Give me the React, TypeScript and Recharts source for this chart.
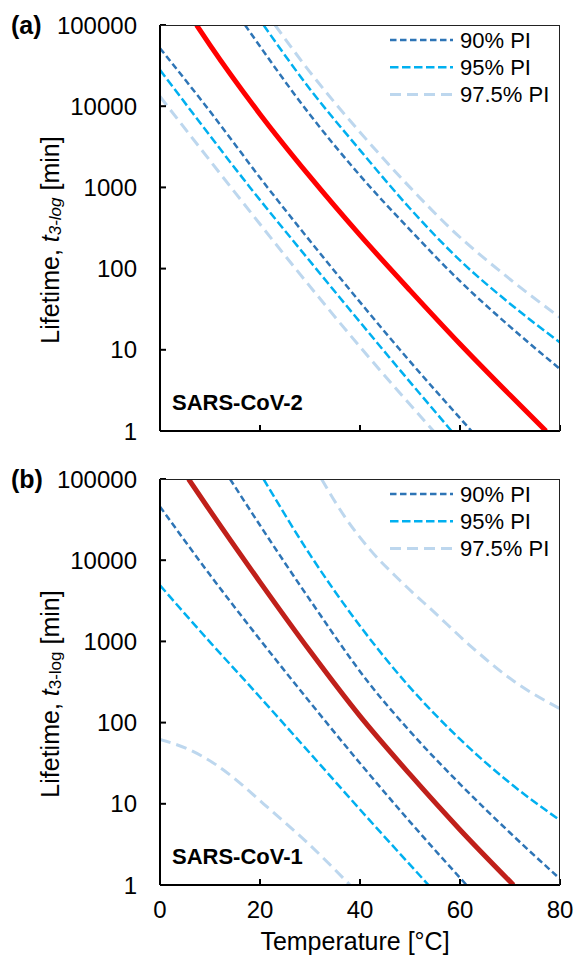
import { LineChart, Line, XAxis, YAxis } from 'recharts'

const FONT = '"Liberation Sans", Arial, sans-serif'

const temperatureTicks = [0, 20, 40, 60, 80]
const lifetimeTicks = [1, 10, 100, 1000, 10000, 100000]

type Pt = [number, number]

// (a) SARS-CoV-2 — [temperature °C, lifetime min]
const cov2Mean: Pt[] = [[7.3, 100000], [10, 56500], [20, 7980], [30, 1355], [40, 258], [50, 54], [60, 11.8], [70, 2.77], [77.2, 1]]
const cov2Pi90Lo: Pt[] = [[0, 51800], [9.2, 10000], [21.5, 1000], [34.5, 100], [48, 10], [62.3, 1]]
const cov2Pi90Hi: Pt[] = [[17, 100000], [30, 7850], [40, 1400], [50, 300], [60, 70], [70, 19.3], [80, 5.8]]
const cov2Pi95Lo: Pt[] = [[0, 28000], [5.5, 10000], [18, 1000], [31.2, 100], [44.6, 10], [58.3, 1]]
const cov2Pi95Hi: Pt[] = [[20.7, 100000], [30, 16200], [40, 2880], [50, 550], [60, 126], [70, 37], [80, 12.3]]
const cov2Pi975Lo: Pt[] = [[0, 13150], [1.5, 10000], [14.2, 1000], [27.1, 100], [40.5, 10], [54.7, 1]]
const cov2Pi975Hi: Pt[] = [[23, 100000], [30, 26300], [40, 4790], [50, 1000], [58, 316], [70, 74], [80, 25]]

// (b) SARS-CoV-1
const cov1Mean: Pt[] = [[5.7, 100000], [10, 40700], [20, 5370], [30, 760], [40, 120], [50, 23], [60, 4.8], [70.7, 1]]
const cov1Pi90Lo: Pt[] = [[0, 45700], [10, 6600], [20, 1050], [30, 178], [40, 31.6], [50, 6], [61.3, 1]]
const cov1Pi90Hi: Pt[] = [[14, 100000], [20, 26900], [30, 3240], [42, 295], [50, 78], [60, 17.5], [70, 4.4], [80, 1.19]]
const cov1Pi95Lo: Pt[] = [[0, 4900], [10, 980], [17.7, 295], [30, 42], [40, 8.5], [53.7, 1]]
const cov1Pi95Hi: Pt[] = [[20.7, 100000], [30, 11700], [40, 1550], [49.5, 294], [60, 62.5], [70, 18], [80, 6.25]]
const cov1Pi975Lo: Pt[] = [[0, 62], [6, 46], [11.3, 30], [16, 18], [20.7, 10], [29.3, 3.4], [38, 1]]
const cov1Pi975Hi: Pt[] = [[32.3, 100000], [37, 33900], [42, 13500], [48, 5620], [55, 2240], [62, 890], [71, 316], [80, 148]]

const piStyles = [
  { name: '90% PI', color: '#2E75B6', dash: '6.5 3.5', width: 2.5 },
  { name: '95% PI', color: '#00B0F0', dash: '8.5 3.5', width: 2.5 },
  { name: '97.5% PI', color: '#BDD7EE', dash: '11 6', width: 3 },
]

const toRows = (pts: Pt[]) => pts.map(([t, v]) => ({ t, v }))

const PLOT_LEFT = 160
const PLOT_W = 400
const PLOT_TOP = 25
const PLOT_H = 406

function YTitle({ viewBox, italicSub }: any) {
  const cx = 50
  const cy = viewBox.y + viewBox.height / 2 + 12
  return (
    <text
      x={cx}
      y={cy}
      transform={`rotate(-90 ${cx} ${cy})`}
      textAnchor="middle"
      dominantBaseline="central"
      fontFamily={FONT}
      fontSize={25}
      fill="#000"
    >
      Lifetime, <tspan fontStyle="italic">t</tspan>
      <tspan fontSize={17} dy={5} fontStyle={italicSub ? 'italic' : 'normal'}>3-log</tspan>
      <tspan dy={-5}> [min]</tspan>
    </text>
  )
}

function PiLegend() {
  return (
    <svg
      width={190}
      height={90}
      style={{ position: 'absolute', left: 380, top: PLOT_TOP, overflow: 'visible' }}
    >
      {piStyles.map((s, i) => {
        const y = 15 + i * 27.3
        return (
          <g key={s.name}>
            <line x1={10} x2={73} y1={y} y2={y} stroke={s.color} strokeWidth={s.width} strokeDasharray={s.dash} />
            <text x={80} y={y} dominantBaseline="central" fontFamily={FONT} fontSize={22} fill="#000">
              {s.name}
            </text>
          </g>
        )
      })}
    </svg>
  )
}

interface PanelProps {
  top: number
  height: number
  letter: string
  virus: string
  meanColor: string
  mean: Pt[]
  lo: Pt[][]
  hi: Pt[][]
  showTemp: boolean
  italicSub: boolean
}

function Panel({ top, height, letter, virus, meanColor, mean, lo, hi, showTemp, italicSub }: PanelProps) {
  const axisH = height - PLOT_TOP - PLOT_H
  const order = [2, 1, 0]
  return (
    <div style={{ position: 'absolute', left: 0, top, width: 574, height }}>
      <LineChart width={574} height={height} margin={{ top: PLOT_TOP, right: 14, bottom: 0, left: 0 }}>
        <XAxis
          type="number"
          dataKey="t"
          domain={[0, 80]}
          ticks={temperatureTicks}
          interval={0}
          allowDataOverflow
          height={axisH}
          tickSize={-6}
          tickMargin={22}
          tickFormatter={(v) => (showTemp ? String(v) : '')}
          tick={{ fill: '#000', fontSize: 24, fontFamily: FONT }}
          axisLine={{ stroke: '#000', strokeWidth: 2 }}
          tickLine={{ stroke: '#000', strokeWidth: 2 }}
          label={
            showTemp
              ? { value: 'Temperature [°C]', position: 'insideBottom', offset: 6, dx: -5, fill: '#000', fontSize: 25, fontFamily: FONT }
              : undefined
          }
        />
        <YAxis
          type="number"
          scale="log"
          domain={[1, 100000]}
          ticks={lifetimeTicks}
          interval={0}
          allowDataOverflow
          width={PLOT_LEFT}
          tickSize={-6}
          tickMargin={29}
          tickFormatter={(v) => String(v)}
          tick={{ fill: '#000', fontSize: 24, fontFamily: FONT }}
          axisLine={{ stroke: '#000', strokeWidth: 2 }}
          tickLine={{ stroke: '#000', strokeWidth: 2 }}
          label={(props: any) => <YTitle {...props} italicSub={italicSub} />}
        />
        {order.map((i) => (
          <Line
            key={`lo-${i}`}
            data={toRows(lo[i])}
            dataKey="v"
            type="monotone"
            stroke={piStyles[i].color}
            strokeWidth={piStyles[i].width}
            strokeDasharray={piStyles[i].dash}
            dot={false}
            activeDot={false}
            isAnimationActive={false}
          />
        ))}
        {order.map((i) => (
          <Line
            key={`hi-${i}`}
            data={toRows(hi[i])}
            dataKey="v"
            type="monotone"
            stroke={piStyles[i].color}
            strokeWidth={piStyles[i].width}
            strokeDasharray={piStyles[i].dash}
            dot={false}
            activeDot={false}
            isAnimationActive={false}
          />
        ))}
        <Line
          data={toRows(mean)}
          dataKey="v"
          type="monotone"
          stroke={meanColor}
          strokeWidth={5}
          dot={false}
          activeDot={false}
          isAnimationActive={false}
        />
      </LineChart>
      {/* top and right frame of the plot box */}
      <div
        style={{
          position: 'absolute',
          left: PLOT_LEFT,
          top: PLOT_TOP,
          width: PLOT_W,
          height: PLOT_H,
          borderTop: '1.5px solid #222',
          borderRight: '1.5px solid #222',
          boxSizing: 'border-box',
          pointerEvents: 'none',
        }}
      />
      <PiLegend />
      <div
        style={{
          position: 'absolute',
          left: 11,
          top: PLOT_TOP - 15,
          fontFamily: FONT,
          fontWeight: 'bold',
          fontSize: 25,
          lineHeight: '30px',
        }}
      >
        {letter}
      </div>
      <div
        style={{
          position: 'absolute',
          left: 172,
          top: PLOT_TOP + PLOT_H - 40,
          fontFamily: FONT,
          fontWeight: 'bold',
          fontSize: 22,
          lineHeight: '24px',
        }}
      >
        {virus}
      </div>
    </div>
  )
}

export default function App() {
  return (
    <div style={{ position: 'absolute', left: 0, top: 0, width: 574, height: 956, background: '#fff' }}>
      <Panel
        top={0}
        height={460}
        letter="(a)"
        virus="SARS-CoV-2"
        meanColor="#FF0000"
        mean={cov2Mean}
        lo={[cov2Pi90Lo, cov2Pi95Lo, cov2Pi975Lo]}
        hi={[cov2Pi90Hi, cov2Pi95Hi, cov2Pi975Hi]}
        showTemp={false}
        italicSub
      />
      <Panel
        top={454}
        height={502}
        letter="(b)"
        virus="SARS-CoV-1"
        meanColor="#C0201A"
        mean={cov1Mean}
        lo={[cov1Pi90Lo, cov1Pi95Lo, cov1Pi975Lo]}
        hi={[cov1Pi90Hi, cov1Pi95Hi, cov1Pi975Hi]}
        showTemp
        italicSub={false}
      />
    </div>
  )
}
